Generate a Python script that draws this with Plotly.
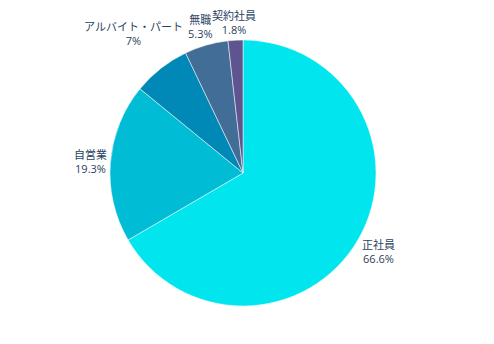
import math
import plotly.graph_objects as go

labels = ["正社員", "自営業", "アルバイト・パート", "無職", "契約社員"]
values = [66.6, 19.3, 7.0, 5.3, 1.8]
colors = ["#00E5EE", "#00BCD4", "#0088B6", "#426D96", "#5E5490"]

W, H = 494, 344
CX, CY, R = 243, 173, 133
FS = 11

fig = go.Figure(go.Pie(
    labels=labels, values=values, sort=False, direction="clockwise", rotation=0,
    marker=dict(colors=colors, line=dict(color="white", width=0.5)),
    textinfo="none", hoverinfo="label+percent",
    domain=dict(x=[(CX - R) / W, (CX + R) / W], y=[1 - (CY + R) / H, 1 - (CY - R) / H]),
    showlegend=False,
))


def text_width(s):
    w = 0.0
    for ch in s:
        if ord(ch) > 0x2000:
            w += FS
        elif ch == ".":
            w += 3.0
        elif ch == "%":
            w += 9.4
        else:
            w += 6.3
    return w


def fmt_pct(p):
    s = f"{p:.1f}"
    if s.endswith(".0"):
        s = s[:-2]
    return s + "%"


total = sum(values)
cum = 0.0
annotations = []
for lab, v in zip(labels, values):
    mid = (cum + v / 2) / total * 2 * math.pi
    cum += v
    sx, sy = math.sin(mid), math.cos(mid)  # sy: up
    pct = fmt_pct(v / total * 100)
    w = max(text_width(lab), text_width(pct))
    h = 30
    rr = R + 2 + (w / 2) * abs(sx) + (h / 2) * abs(sy)
    px = CX + rr * sx
    py = CY - rr * sy
    annotations.append(dict(
        x=px / W, y=1 - py / H, xref="paper", yref="paper",
        text=f"{lab}<br>{pct}", showarrow=False, xanchor="center", yanchor="middle",
        align="center", font=dict(size=FS, color="#2a3f5f"),
    ))

fig.update_layout(
    width=W, height=H,
    margin=dict(l=0, r=0, t=0, b=0),
    paper_bgcolor="white",
    font=dict(family="Open Sans, Noto Sans CJK JP, sans-serif"),
    annotations=annotations,
)
fig.write_html("out.html")
